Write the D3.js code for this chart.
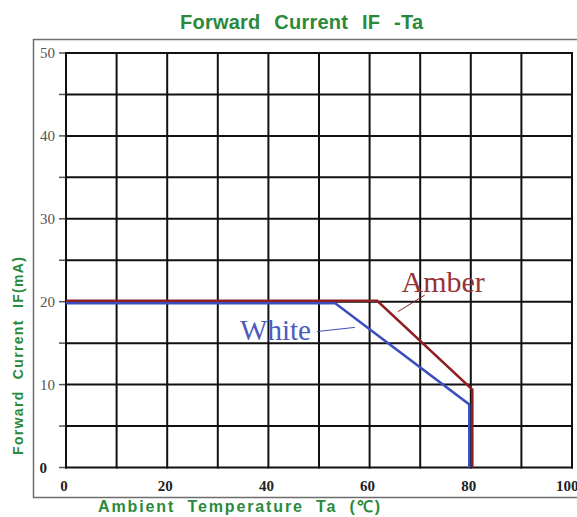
<!DOCTYPE html>
<html>
<head>
<meta charset="utf-8">
<script src="https://cdn.jsdelivr.net/npm/d3@7"></script>
<style>
  body { margin: 0; background: #fff; }
  svg { display: block; }
</style>
</head>
<body>
<svg id="chart"></svg>
<script>
const SVG_WIDTH = 577;
const SVG_HEIGHT = 517;

// data
const x_ticks = [0, 20, 40, 60, 80, 100];
const y_ticks = [0, 10, 20, 30, 40, 50];
const x_grid = [0, 10, 20, 30, 40, 50, 60, 70, 80, 90, 100];
const y_grid = [0, 5, 10, 15, 20, 25, 30, 35, 40, 45, 50];

const amber_ta = [0, 61.5, 80.3, 80.3];
const amber_if = [20.1, 20.1, 9.4, 0];
const white_ta = [0, 53.2, 79.7, 79.7];
const white_if = [19.8, 19.8, 7.6, 0];

const series_names = ["Amber", "White"];
const series_colors = ["#8e1f22", "#3b4fbf"];
const label_pos = [[66.3, 21.2], [34.4, 15.4]];
const leader_lines = [[[65.6, 18.8], [70.9, 20.8]], [[49.6, 16.4], [57.1, 16.9]]];

function draw_chart(id) {
    let svg = d3.select(id)
        .attr('width', SVG_WIDTH)
        .attr('height', SVG_HEIGHT);

    let x = d3.scaleLinear().domain([0, 100]).range([66, 572]);
    let y = d3.scaleLinear().domain([0, 50]).range([467.5, 53]);

    // outer frame (runs off the right edge)
    svg.append('path')
        .attr('d', 'M' + (SVG_WIDTH + 5) + ',39.5 H33.5 V497.5 H' + (SVG_WIDTH + 5))
        .attr('fill', 'none')
        .attr('stroke', '#6e6e6e')
        .attr('stroke-width', 1.5);

    // title
    svg.append('text')
        .attr('x', 180).attr('y', 29)
        .attr('textLength', 243)
        .attr('lengthAdjust', 'spacing')
        .style('font', 'bold 20px "Liberation Sans", Arial, sans-serif')
        .style('word-spacing', '8px')
        .attr('fill', '#2a8a3c')
        .text('Forward Current IF -Ta');

    // left tick stubs
    svg.append('g').selectAll('line')
        .data(y_grid)
        .enter()
        .append('line')
        .attr('x1', x(0) - 7).attr('x2', x(0))
        .attr('y1', d => y(d)).attr('y2', d => y(d))
        .attr('stroke', '#555')
        .attr('stroke-width', 1.5);

    // grid
    svg.append('g').selectAll('line')
        .data(x_grid)
        .enter()
        .append('line')
        .attr('x1', d => x(d)).attr('x2', d => x(d))
        .attr('y1', y(50) - 1).attr('y2', y(0) + 1)
        .attr('stroke', '#111')
        .attr('stroke-width', 2);

    svg.append('g').selectAll('line')
        .data(y_grid)
        .enter()
        .append('line')
        .attr('x1', x(0) - 1).attr('x2', x(100) + 1)
        .attr('y1', d => y(d)).attr('y2', d => y(d))
        .attr('stroke', '#111')
        .attr('stroke-width', 2);

    // y tick labels
    svg.append('g').selectAll('text')
        .data(y_ticks)
        .enter()
        .append('text')
        .attr('x', d => d === 0 ? 47 : 55)
        .attr('y', d => y(d) + 5)
        .attr('text-anchor', 'end')
        .style('font', d => d === 0 ? 'bold 15px "Liberation Serif", serif' : '15px "Liberation Serif", serif')
        .attr('fill', d => d === 0 ? '#222' : '#555')
        .text(d => d);

    // x tick labels
    svg.append('g').selectAll('text')
        .data(x_ticks)
        .enter()
        .append('text')
        .attr('x', d => x(d) - 2)
        .attr('y', 491)
        .attr('text-anchor', d => d === 100 ? 'start' : 'middle')
        .attr('dx', d => d === 100 ? -14 : 0)
        .style('font', 'bold 15px "Liberation Serif", serif')
        .attr('fill', '#222')
        .text(d => d);

    // axis titles
    svg.append('text')
        .attr('x', 98).attr('y', 512)
        .attr('textLength', 282)
        .attr('lengthAdjust', 'spacing')
        .style('font', 'bold 16px "Liberation Sans", Arial, sans-serif')
        .style('word-spacing', '6px')
        .attr('fill', '#2a8a3c')
        .text('Ambient Temperature Ta (\u2103)');

    svg.append('text')
        .attr('transform', 'translate(23,455) rotate(-90)')
        .attr('textLength', 198)
        .attr('lengthAdjust', 'spacing')
        .style('font', 'bold 14px "Liberation Sans", Arial, sans-serif')
        .style('word-spacing', '6px')
        .attr('fill', '#2a8a3c')
        .text('Forward Current IF(mA)');

    // curves
    let line = d3.line().x(d => x(d[0])).y(d => y(d[1]));
    let curves = [
        d3.zip(amber_ta, amber_if),
        d3.zip(white_ta, white_if)
    ];
    svg.append('g').selectAll('path')
        .data(curves)
        .enter()
        .append('path')
        .attr('d', line)
        .attr('fill', 'none')
        .attr('stroke', (d, i) => series_colors[i])
        .attr('stroke-width', 2.5);

    // leader lines and labels
    svg.append('g').selectAll('path')
        .data(leader_lines)
        .enter()
        .append('path')
        .attr('d', line)
        .attr('fill', 'none')
        .attr('stroke', (d, i) => series_colors[i])
        .attr('stroke-width', 1);

    svg.append('g').selectAll('text')
        .data(series_names)
        .enter()
        .append('text')
        .attr('x', (d, i) => x(label_pos[i][0]))
        .attr('y', (d, i) => y(label_pos[i][1]))
        .style('font', (d, i) => (i === 0 ? 30 : 29) + 'px "Liberation Serif", serif')
        .attr('fill', (d, i) => i === 0 ? '#963438' : '#4a5cbb')
        .text(d => d);
}

window.onload = function init(e) {
    draw_chart('#chart');
}
</script>
</body>
</html>
